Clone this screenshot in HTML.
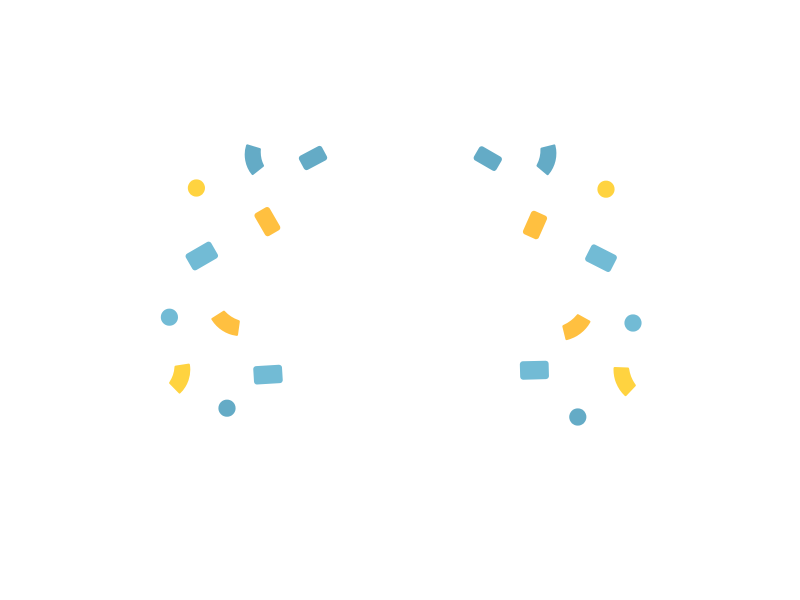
<!DOCTYPE html>
<html>
<head>
<meta charset="utf-8">
<title>Chart</title>
<style>
html,body{margin:0;padding:0;background:#fff;width:800px;height:600px;overflow:hidden}
svg{display:block;filter:blur(0.35px)}
</style>
</head>
<body>
<svg id="chart" width="800" height="600" viewBox="0 0 800 600" xmlns="http://www.w3.org/2000/svg"></svg>
<script>
const seriesColors = ['#64abc6', '#72bbd5', '#ffc040', '#ffd340'];

const circleX = [98.2, 84.7, 113.5, 303, 316.5, 288.9];
const circleY = [206, 141.4, 95.9, 205.4, 138.5, 91.5];
const circleSize = [8.6, 8.6, 8.6, 8.6, 8.6, 8.6];
const circleSeries = [3, 1, 0, 3, 1, 0];

const rectX = [156.5, 133.7, 100.9, 134, 243.9, 267.5, 300.5, 267.2];
const rectY = [221, 189.2, 172, 112.7, 220.7, 187.5, 170.9, 114.9];
const rectLength = [13, 13.2, 14.6, 14.4, 13, 12.8, 14.2, 14.4];
const rectBreadth = [8, 8.6, 9.4, 9.2, 8, 8.6, 9.4, 9.2];
const rectTilt = [-28, 60, -30, -3.5, 30, -66, 27, -1.5];
const rectSeries = [0, 2, 1, 1, 0, 2, 1, 1];

const sectorX = [138.35, 120.7, 78.65, 261.7, 279.15, 324.75];
const sectorY = [222.7, 149.5, 115.2, 223.3, 147.75, 115.15];
const sectorInner = [8.3, 9.7, 8.7, 8.8, 10.6, 10.2];
const sectorOuter = [16, 17.6, 16.5, 16.5, 18.3, 18];
const sectorStart = [139, 95.3, -11, -16.6, 26.7, 131.1];
const sectorEnd = [199.5, 150.4, 48, 42.9, 78.9, 184.9];
const sectorSeries = [0, 2, 3, 0, 2, 3];

const svgNS = 'http://www.w3.org/2000/svg';
const chart = document.getElementById('chart');
const xAxis = v => v * 2;
const yAxis = v => 600 - v * 2;
const lenAxis = v => v * 2;

function make(tag, attrs) {
  const el = document.createElementNS(svgNS, tag);
  Object.keys(attrs).forEach(k => el.setAttribute(k, attrs[k]));
  chart.appendChild(el);
  return el;
}

function polar(cx, cy, r, deg) {
  const a = deg * Math.PI / 180;
  return [(cx + r * Math.cos(a)).toFixed(2), (cy + r * Math.sin(a)).toFixed(2)];
}

circleX.forEach((v, i) => {
  const el = make('circle', {
    cx: xAxis(v),
    cy: yAxis(circleY[i]),
    r: lenAxis(circleSize[i]) / 2,
    fill: seriesColors[circleSeries[i]]
  });
  
  
});

rectX.forEach((v, i) => {
  const w = lenAxis(rectLength[i]);
  const h = lenAxis(rectBreadth[i]);
  const cx = xAxis(v);
  const cy = yAxis(rectY[i]);
  const el = make('rect', {
    x: cx - w / 2,
    y: cy - h / 2,
    width: w,
    height: h,
    rx: 3,
    ry: 3,
    fill: seriesColors[rectSeries[i]],
    transform: 'rotate(' + rectTilt[i] + ' ' + cx + ' ' + cy + ')'
  });
  
  
});

sectorX.forEach((v, i) => {
  const inset = 1.25;
  const cx = xAxis(v);
  const cy = yAxis(sectorY[i]);
  const r0 = lenAxis(sectorInner[i]) + inset;
  const r1 = lenAxis(sectorOuter[i]) - inset;
  const innerCurve = r0 * 1.7;
  const a0 = sectorStart[i] + 2.5;
  const a1 = sectorEnd[i] - 2.5;
  const p1 = polar(cx, cy, r1, a0);
  const p2 = polar(cx, cy, r1, a1);
  const p3 = polar(cx, cy, r0, a1);
  const p4 = polar(cx, cy, r0, a0);
  const d = 'M' + p1 + ' A' + r1 + ' ' + r1 + ' 0 0 1 ' + p2 +
            ' L' + p3 + ' A' + innerCurve + ' ' + innerCurve + ' 0 0 0 ' + p4 + ' Z';
  const el = make('path', {
    d: d,
    fill: seriesColors[sectorSeries[i]],
    stroke: seriesColors[sectorSeries[i]],
    'stroke-width': 2.5,
    'stroke-linejoin': 'round'
  });
  
  
});
</script>
</body>
</html>
